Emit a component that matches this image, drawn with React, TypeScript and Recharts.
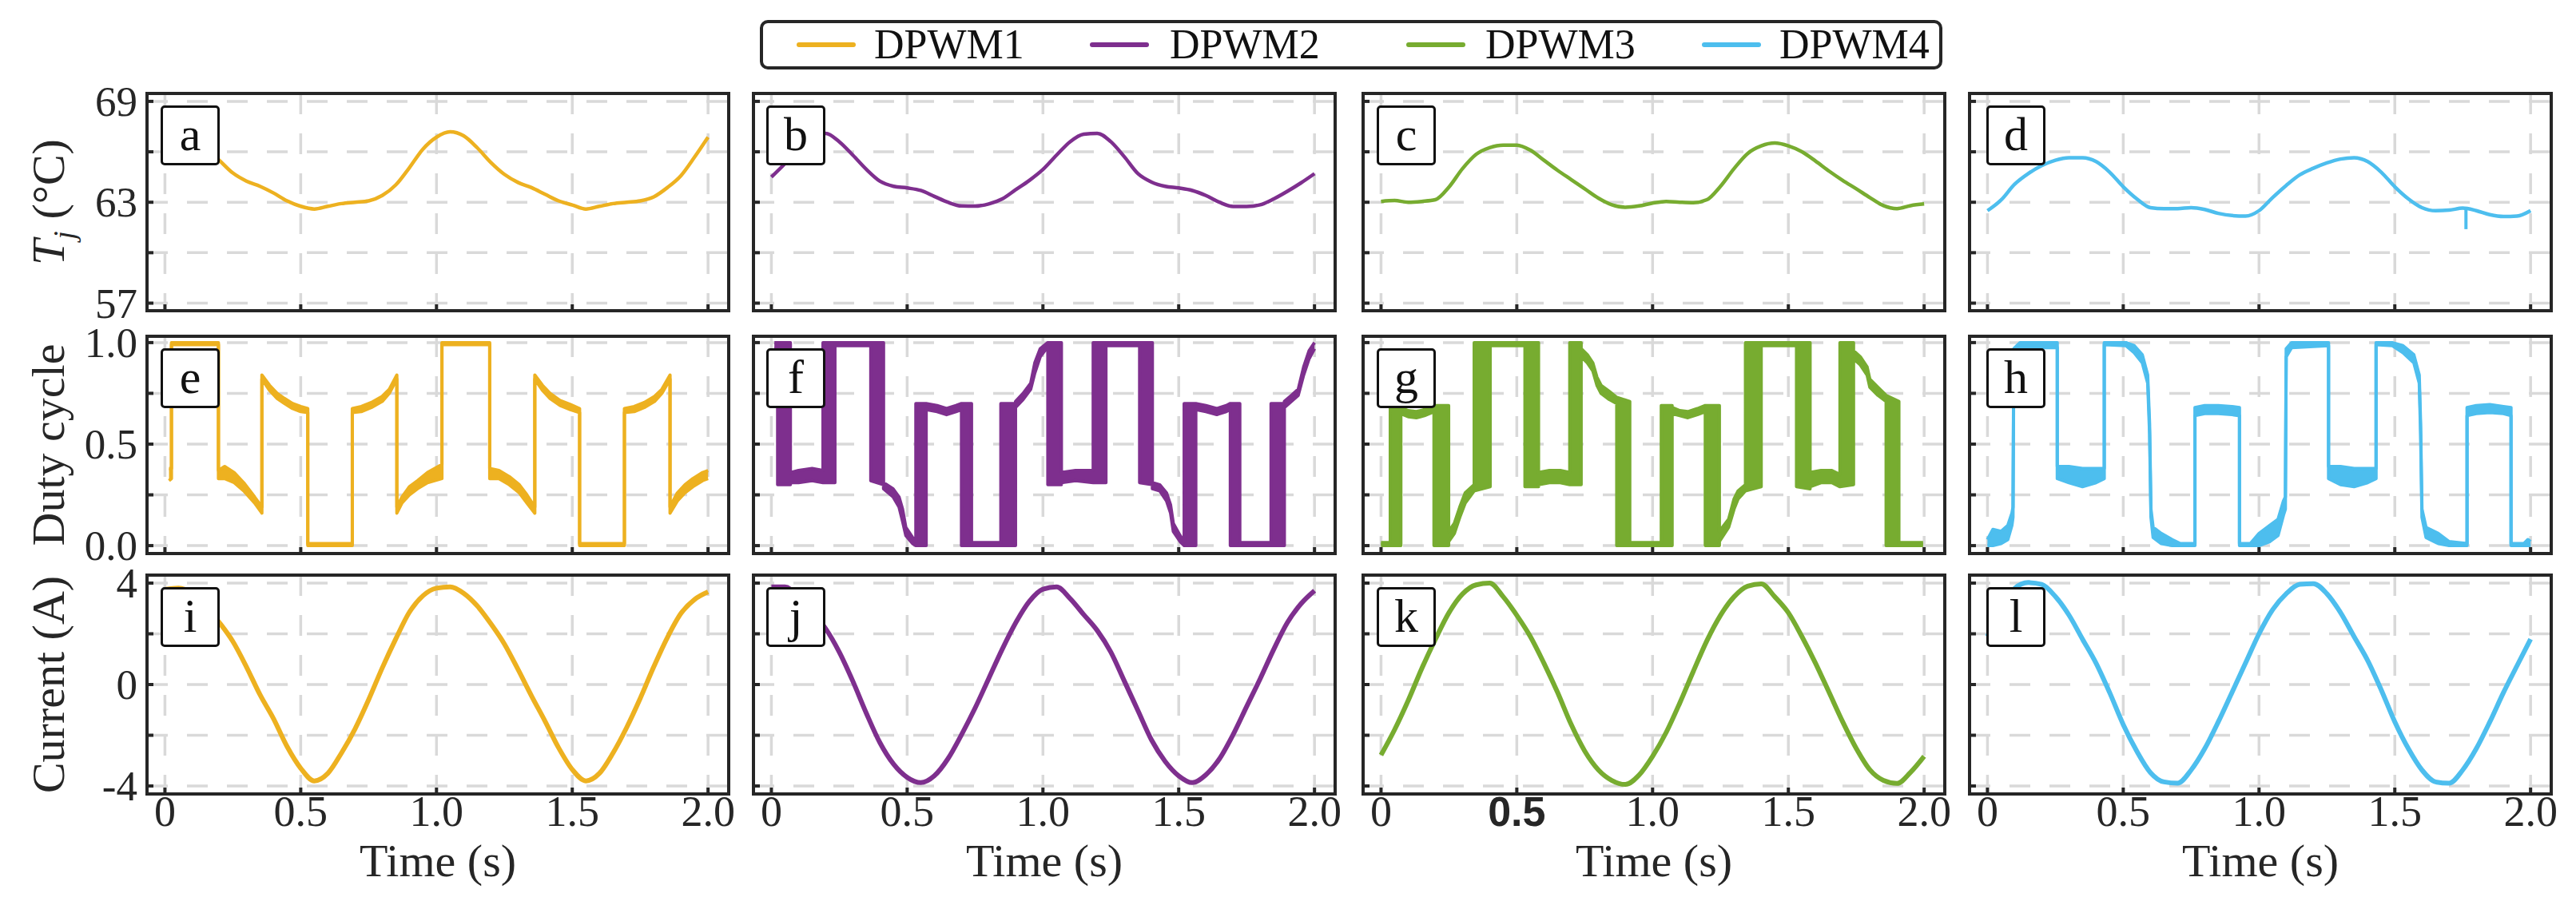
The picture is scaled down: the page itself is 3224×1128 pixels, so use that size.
import React from "react";
import { ComposedChart, Line, Area, XAxis, YAxis, CartesianGrid } from "recharts";

const SERIF = '"Liberation Serif", "Times New Roman", Times, serif';
const INK = "#262626";
const GRID = "#d9d9d9";

const seriesNames = ["DPWM1", "DPWM2", "DPWM3", "DPWM4"];
const seriesColors = ["#EDB120", "#7E2F8E", "#77AC30", "#4DBEEE"];
const panelLetters = [
  ["a", "b", "c", "d"],
  ["e", "f", "g", "h"],
  ["i", "j", "k", "l"],
];

// axes
const timeTicks = [0, 0.5, 1, 1.5, 2];
const timeTickLabels = ["0", "0.5", "1.0", "1.5", "2.0"];
const tjGrid = [57, 60, 63, 66, 69];
const tjTickLabels = ["57", "", "63", "", "69"];
const dutyGrid = [0, 0.25, 0.5, 0.75, 1];
const dutyTickLabels = ["0.0", "", "0.5", "", "1.0"];
const curGrid = [-4, -2, 0, 2, 4];
const curTickLabels = ["-4", "", "0", "", "4"];
const rowTitles = ["Tj", "Duty cycle", "Current (A)"];

// sampled time base (s) for junction temperature and current
const timeGrid = [
  0, 0.05, 0.1, 0.15, 0.2, 0.25, 0.3, 0.35, 0.4, 0.45, 0.5, 0.55, 0.6, 0.65, 0.7, 0.75, 0.8, 0.85, 0.9, 0.95,
  1.0, 1.05, 1.1, 1.15, 1.2, 1.25, 1.3, 1.35, 1.4, 1.45, 1.5, 1.55, 1.6, 1.65, 1.7, 1.75, 1.8, 1.85, 1.9, 1.95, 2.0,
];

// junction temperature (°C)
const tjDpwm1 = [
  66.9, 67.2, 66.95, 66.25, 65.5, 64.74, 64.26, 63.95, 63.55, 63.08, 62.76, 62.6, 62.76, 62.92, 63.0, 63.08, 63.4, 64.03, 65.05, 66.16,
  66.87, 67.19, 66.95, 66.24, 65.37, 64.66, 64.18, 63.87, 63.47, 63.08, 62.84, 62.6, 62.76, 62.92, 63.0, 63.08, 63.32, 63.87, 64.58, 65.68, 66.87,
];
const tjDpwm2 = [
  64.5, 65.3, 66.2, 66.9, 67.1, 66.6, 65.8, 64.95, 64.25, 63.95, 63.85, 63.7, 63.35, 63.0, 62.78, 62.77, 62.9, 63.2, 63.75, 64.3,
  64.95, 65.8, 66.6, 67.05, 67.1, 66.6, 65.7, 64.7, 64.2, 63.95, 63.85, 63.7, 63.4, 63.0, 62.75, 62.75, 62.85, 63.2, 63.65, 64.15, 64.7,
];
const tjDpwm3 = [
  63.05, 63.1, 63.0, 63.05, 63.15, 63.9, 65.0, 65.85, 66.25, 66.4, 66.4, 66.1, 65.5, 64.9, 64.35, 63.8, 63.25, 62.85, 62.7, 62.78,
  62.95, 63.05, 63.0, 62.97, 63.15, 63.95, 65.0, 65.9, 66.35, 66.52, 66.35, 66.0, 65.45, 64.85, 64.3, 63.8, 63.28, 62.8, 62.62, 62.8, 62.9,
];
const tjDpwm4 = [
  62.5, 63.13, 64.07, 64.7, 65.18, 65.5, 65.65, 65.65, 65.42, 64.79, 63.92, 63.2, 62.68, 62.62, 62.62, 62.68, 62.57, 62.34, 62.21, 62.18,
  62.5, 63.28, 64.0, 64.63, 65.02, 65.34, 65.57, 65.65, 65.42, 64.79, 63.92, 63.2, 62.68, 62.5, 62.53, 62.65, 62.5, 62.26, 62.15, 62.18, 62.5,
];
// short sensor glitch in the DPWM4 temperature trace
const tjDpwm4Glitch = [
  [1.762, 62.6],
  [1.762, 61.4],
];

// phase current (A)
const curDpwm1 = [
  3.75, 3.8, 3.6, 3.1, 2.45, 1.7, 0.7, -0.4, -1.35, -2.45, -3.3, -3.8, -3.5, -2.7, -1.75, -0.6, 0.65, 1.8, 2.85, 3.5,
  3.8, 3.85, 3.6, 3.1, 2.4, 1.6, 0.6, -0.45, -1.45, -2.5, -3.35, -3.8, -3.5, -2.7, -1.7, -0.55, 0.7, 1.85, 2.8, 3.35, 3.65,
];
const curDpwm2 = [
  3.85, 3.85, 3.45, 2.85, 2.2, 1.28, 0.13, -1.14, -2.3, -3.14, -3.66, -3.87, -3.6, -2.93, -1.98, -0.93, 0.23, 1.39, 2.44, 3.28,
  3.76, 3.85, 3.39, 2.76, 2.13, 1.28, 0.13, -1.03, -2.19, -3.03, -3.6, -3.87, -3.56, -2.93, -1.98, -0.87, 0.23, 1.39, 2.44, 3.18, 3.7,
];
const curDpwm3 = [
  -2.78, -1.78, -0.63, 0.63, 1.78, 2.83, 3.57, 3.93, 4.0, 3.46, 2.73, 1.89, 0.84, -0.31, -1.57, -2.62, -3.36, -3.78, -3.94, -3.57,
  -2.83, -1.89, -0.73, 0.52, 1.73, 2.73, 3.46, 3.88, 3.97, 3.46, 2.83, 1.89, 0.84, -0.31, -1.47, -2.52, -3.36, -3.78, -3.9, -3.46, -2.83,
];
const curDpwm4 = [
  1.9, 3.05, 3.79, 4.02, 3.95, 3.47, 2.74, 1.79, 0.84, -0.32, -1.58, -2.63, -3.47, -3.84, -3.89, -3.37, -2.53, -1.47, -0.32, 0.84,
  2.0, 2.95, 3.58, 3.95, 3.98, 3.58, 2.84, 1.89, 0.95, -0.21, -1.47, -2.53, -3.37, -3.84, -3.89, -3.37, -2.53, -1.47, -0.32, 0.74, 1.79,
];

// duty cycle traces: [time, lower envelope, upper envelope]
const dutyDpwm1 = [
  [0.015, 0.32, 0.38], [0.024, 0.33, 0.38], [0.024, 0.99, 1.0], [0.197, 0.99, 1.0], [0.197, 0.33, 0.37],
  [0.22, 0.33, 0.39], [0.255, 0.31, 0.36], [0.29, 0.27, 0.31], [0.33, 0.21, 0.24], [0.357, 0.16, 0.19],
  [0.357, 0.82, 0.84], [0.385, 0.765, 0.79], [0.413, 0.725, 0.75], [0.44, 0.7, 0.725], [0.47, 0.675, 0.7],
  [0.5, 0.66, 0.685], [0.526, 0.655, 0.675], [0.526, 0.0, 0.01], [0.69, 0.0, 0.01], [0.69, 0.655, 0.675],
  [0.723, 0.66, 0.685], [0.76, 0.68, 0.705], [0.8, 0.71, 0.735], [0.826, 0.75, 0.77], [0.854, 0.82, 0.84],
  [0.854, 0.16, 0.19], [0.873, 0.21, 0.24], [0.9, 0.25, 0.29], [0.93, 0.28, 0.32], [0.967, 0.31, 0.36],
  [1.02, 0.33, 0.4], [1.02, 0.99, 1.0], [1.196, 0.99, 1.0], [1.196, 0.33, 0.38], [1.23, 0.33, 0.37],
  [1.268, 0.3, 0.34], [1.305, 0.26, 0.3], [1.333, 0.21, 0.25], [1.362, 0.16, 0.19], [1.362, 0.82, 0.84],
  [1.39, 0.765, 0.79], [1.418, 0.725, 0.75], [1.455, 0.69, 0.715], [1.493, 0.67, 0.695], [1.527, 0.655, 0.675],
  [1.527, 0.0, 0.01], [1.692, 0.0, 0.01], [1.692, 0.655, 0.675], [1.728, 0.66, 0.685], [1.765, 0.68, 0.705],
  [1.803, 0.71, 0.735], [1.83, 0.75, 0.77], [1.86, 0.82, 0.84], [1.86, 0.16, 0.19], [1.887, 0.22, 0.26],
  [1.915, 0.26, 0.3], [1.944, 0.29, 0.33], [1.98, 0.32, 0.36], [2.0, 0.33, 0.37],
];
const dutyDpwm2 = [
  [0.011, 0.97, 1.0], [0.023, 0.97, 1.0], [0.023, 0.3, 1.0], [0.07, 0.3, 1.0], [0.07, 0.31, 0.36],
  [0.1, 0.31, 0.37], [0.15, 0.32, 0.38], [0.19, 0.31, 0.37], [0.19, 0.31, 1.0], [0.234, 0.31, 1.0],
  [0.234, 0.985, 1.0], [0.366, 0.985, 1.0], [0.366, 0.32, 1.0], [0.413, 0.3, 1.0], [0.413, 0.28, 0.31],
  [0.448, 0.24, 0.28], [0.47, 0.19, 0.24], [0.483, 0.12, 0.18], [0.495, 0.05, 0.09], [0.52, 0.01, 0.04],
  [0.532, 0.0, 0.02], [0.532, 0.0, 0.7], [0.57, 0.0, 0.7], [0.57, 0.67, 0.7], [0.61, 0.66, 0.69],
  [0.645, 0.645, 0.675], [0.68, 0.66, 0.69], [0.7, 0.67, 0.7], [0.7, 0.0, 0.7], [0.737, 0.0, 0.7],
  [0.737, 0.0, 0.015], [0.845, 0.0, 0.015], [0.845, 0.0, 0.7], [0.899, 0.0, 0.7], [0.899, 0.68, 0.71],
  [0.927, 0.72, 0.75], [0.955, 0.77, 0.8], [0.97, 0.85, 0.9], [0.99, 0.93, 0.97], [1.018, 0.98, 1.0],
  [1.018, 0.3, 1.0], [1.068, 0.3, 1.0], [1.068, 0.31, 0.36], [1.12, 0.32, 0.37], [1.185, 0.31, 0.37],
  [1.185, 0.31, 1.0], [1.232, 0.31, 1.0], [1.232, 0.985, 1.0], [1.356, 0.985, 1.0], [1.356, 0.31, 1.0],
  [1.403, 0.3, 1.0], [1.403, 0.28, 0.31], [1.43, 0.27, 0.3], [1.455, 0.22, 0.26], [1.47, 0.16, 0.2],
  [1.48, 0.07, 0.11], [1.505, 0.02, 0.05], [1.52, 0.0, 0.02], [1.52, 0.0, 0.7], [1.563, 0.0, 0.7],
  [1.563, 0.67, 0.7], [1.6, 0.66, 0.69], [1.64, 0.645, 0.675], [1.675, 0.66, 0.69], [1.69, 0.67, 0.7],
  [1.69, 0.0, 0.7], [1.725, 0.0, 0.7], [1.725, 0.0, 0.015], [1.84, 0.0, 0.015], [1.84, 0.0, 0.7],
  [1.889, 0.0, 0.7], [1.889, 0.68, 0.71], [1.915, 0.71, 0.74], [1.94, 0.74, 0.77], [1.96, 0.84, 0.88],
  [1.98, 0.92, 0.96], [2.0, 0.97, 1.0],
];
const dutyDpwm3 = [
  [0.0, 0.0, 0.015], [0.034, 0.0, 0.015], [0.034, 0.0, 0.68], [0.073, 0.0, 0.68], [0.073, 0.65, 0.68],
  [0.1, 0.635, 0.665], [0.13, 0.63, 0.66], [0.16, 0.64, 0.67], [0.195, 0.66, 0.69], [0.195, 0.0, 0.69],
  [0.249, 0.0, 0.69], [0.249, 0.02, 0.07], [0.27, 0.06, 0.11], [0.29, 0.14, 0.19], [0.31, 0.21, 0.26],
  [0.343, 0.27, 0.3], [0.343, 0.27, 1.0], [0.402, 0.29, 1.0], [0.402, 0.985, 1.0], [0.53, 0.985, 1.0],
  [0.53, 0.29, 1.0], [0.58, 0.29, 1.0], [0.58, 0.3, 0.36], [0.62, 0.31, 0.37], [0.66, 0.31, 0.37],
  [0.695, 0.3, 0.36], [0.695, 0.3, 1.0], [0.737, 0.3, 1.0], [0.737, 0.93, 0.97], [0.76, 0.9, 0.94],
  [0.78, 0.86, 0.9], [0.795, 0.79, 0.83], [0.81, 0.75, 0.79], [0.84, 0.72, 0.76], [0.868, 0.7, 0.73],
  [0.868, 0.0, 0.73], [0.916, 0.0, 0.71], [0.916, 0.0, 0.015], [1.032, 0.0, 0.015], [1.032, 0.0, 0.69],
  [1.072, 0.0, 0.69], [1.072, 0.65, 0.68], [1.1, 0.64, 0.665], [1.13, 0.63, 0.66], [1.165, 0.645, 0.675],
  [1.194, 0.66, 0.69], [1.194, 0.0, 0.69], [1.246, 0.0, 0.69], [1.246, 0.02, 0.07], [1.28, 0.09, 0.13],
  [1.3, 0.18, 0.23], [1.315, 0.23, 0.27], [1.342, 0.27, 0.3], [1.342, 0.27, 1.0], [1.4, 0.29, 1.0],
  [1.4, 0.985, 1.0], [1.53, 0.985, 1.0], [1.53, 0.29, 1.0], [1.58, 0.28, 1.0], [1.58, 0.29, 0.36],
  [1.62, 0.31, 0.37], [1.66, 0.31, 0.37], [1.69, 0.29, 0.35], [1.69, 0.29, 1.0], [1.74, 0.3, 1.0],
  [1.74, 0.92, 0.96], [1.765, 0.89, 0.93], [1.79, 0.84, 0.88], [1.8, 0.78, 0.82], [1.83, 0.74, 0.78],
  [1.86, 0.71, 0.74], [1.86, 0.0, 0.74], [1.907, 0.0, 0.71], [1.907, 0.0, 0.015], [1.996, 0.0, 0.015],
];
const dutyDpwm4 = [
  [0.0, 0.0, 0.03], [0.02, 0.0, 0.08], [0.05, 0.01, 0.07], [0.075, 0.03, 0.1], [0.09, 0.1, 0.16],
  [0.094, 0.14, 0.19], [0.097, 0.93, 0.97], [0.12, 0.975, 1.0], [0.257, 0.975, 1.0], [0.257, 0.33, 0.39],
  [0.3, 0.31, 0.39], [0.35, 0.29, 0.38], [0.4, 0.31, 0.38], [0.43, 0.33, 0.38], [0.43, 0.99, 1.0],
  [0.51, 0.985, 1.0], [0.54, 0.95, 0.985], [0.57, 0.9, 0.94], [0.59, 0.8, 0.84], [0.597, 0.55, 0.6],
  [0.602, 0.14, 0.18], [0.61, 0.04, 0.09], [0.64, 0.01, 0.06], [0.68, 0.0, 0.03], [0.71, 0.0, 0.01],
  [0.764, 0.0, 0.01], [0.764, 0.64, 0.68], [0.8, 0.65, 0.69], [0.85, 0.65, 0.69], [0.9, 0.645, 0.685],
  [0.928, 0.64, 0.68], [0.928, 0.0, 0.01], [0.968, 0.0, 0.01], [1.0, 0.0, 0.06], [1.04, 0.02, 0.1],
  [1.07, 0.05, 0.13], [1.09, 0.15, 0.22], [1.097, 0.18, 0.24], [1.1, 0.93, 0.97], [1.12, 0.975, 1.0],
  [1.256, 0.985, 1.0], [1.256, 0.33, 0.39], [1.3, 0.3, 0.39], [1.35, 0.29, 0.38], [1.4, 0.31, 0.38],
  [1.431, 0.33, 0.38], [1.431, 0.99, 1.0], [1.49, 0.985, 1.0], [1.53, 0.95, 0.985], [1.57, 0.9, 0.94],
  [1.59, 0.8, 0.84], [1.595, 0.55, 0.6], [1.6, 0.14, 0.18], [1.615, 0.04, 0.09], [1.66, 0.01, 0.06],
  [1.7, 0.0, 0.02], [1.766, 0.0, 0.01], [1.766, 0.64, 0.68], [1.8, 0.65, 0.69], [1.85, 0.655, 0.695],
  [1.9, 0.65, 0.685], [1.928, 0.64, 0.68], [1.928, 0.0, 0.01], [1.975, 0.0, 0.01], [1.99, 0.0, 0.03],
  [2.0, 0.0, 0.02],
];

const tjSeries = [tjDpwm1, tjDpwm2, tjDpwm3, tjDpwm4];
const dutySeries = [dutyDpwm1, dutyDpwm2, dutyDpwm3, dutyDpwm4];
const curSeries = [curDpwm1, curDpwm2, curDpwm3, curDpwm4];

// layout (page pixels)
const COL_X = [184, 943, 1706, 2465];
const PANEL_W = 728;
const ROW_Y = [117, 421, 720];
const ROW_H = [272, 272, 274];
const LETTER_DX = [17, 16, 17, 21];
const X_DOMAIN = [-0.066, 2.076];
const Y_DOMAINS = [
  [56.55, 69.47],
  [-0.039, 1.031],
  [-4.315, 4.315],
];
const Y_AXIS_W = 90;
const X_AXIS_H = 60;
const M = { top: 32, right: 12, bottom: 0, left: 0 };
const TICK_STYLE = { stroke: INK, strokeWidth: 4 };

const rowGrid = [tjGrid, dutyGrid, curGrid];
const rowTickLabels = [tjTickLabels, dutyTickLabels, curTickLabels];

function Panel({ row, col }: { row: number; col: number }) {
  const w = PANEL_W;
  const h = ROW_H[row];
  const color = seriesColors[col];
  const grid = rowGrid[row];
  const labels = rowTickLabels[row];

  let data: any[];
  if (row === 0) data = timeGrid.map((t, i) => ({ t, v: tjSeries[col][i] }));
  else if (row === 1) data = dutySeries[col].map(([t, lo, hi]) => ({ t, r: [lo, hi] }));
  else data = timeGrid.map((t, i) => ({ t, v: curSeries[col][i] }));

  const plotTop = M.top;
  const plotBottom = M.top + h;

  const xTick = (p: any) => {
    if (row !== 2) return <g />;
    const idx = timeTicks.indexOf(p.payload.value);
    const odd = col === 2 && idx === 1;
    return (
      <text
        x={p.x}
        y={plotBottom + 40}
        textAnchor="middle"
        fill={INK}
        fontFamily={odd ? '"Liberation Sans", Arial, sans-serif' : SERIF}
        fontWeight={odd ? 700 : 400}
        fontSize={odd ? 52 : 54}
      >
        {timeTickLabels[idx]}
      </text>
    );
  };
  const yTick = (p: any) => {
    if (col !== 0) return <g />;
    const idx = grid.indexOf(p.payload.value);
    return (
      <text x={Y_AXIS_W - 12} y={p.y + 18} textAnchor="end" fill={INK} fontFamily={SERIF} fontSize={53}>
        {labels[idx]}
      </text>
    );
  };

  return (
    <>
      <div style={{ position: "absolute", left: COL_X[col] - Y_AXIS_W, top: ROW_Y[row] - plotTop }}>
        <ComposedChart
          width={w + Y_AXIS_W + M.right}
          height={h + M.top + X_AXIS_H}
          data={data}
          margin={M}
        >
          <CartesianGrid stroke={GRID} strokeWidth={3.5} strokeDasharray="26 24" />
          <XAxis
            type="number"
            dataKey="t"
            domain={X_DOMAIN}
            ticks={timeTicks}
            allowDataOverflow
            height={X_AXIS_H}
            axisLine={false}
            tickLine={TICK_STYLE}
            tickSize={-8}
            interval={0}
            tick={xTick}
          />
          <YAxis
            type="number"
            domain={Y_DOMAINS[row]}
            ticks={grid}
            allowDataOverflow
            width={Y_AXIS_W}
            axisLine={false}
            tickLine={TICK_STYLE}
            tickSize={-8}
            interval={0}
            tick={yTick}
          />
          {row === 1 ? (
            <Area
              type="linear"
              dataKey="r"
              stroke={color}
              strokeWidth={4}
              strokeLinejoin="round"
              fill={color}
              fillOpacity={1}
              dot={false}
              activeDot={false}
              isAnimationActive={false}
            />
          ) : (
            <Line
              type="monotone"
              dataKey="v"
              stroke={color}
              strokeWidth={row === 0 ? 4.5 : 6}
              dot={false}
              activeDot={false}
              isAnimationActive={false}
            />
          )}
          {row === 0 && col === 3 && (
            <Line
              data={tjDpwm4Glitch.map(([t, v]) => ({ t, v }))}
              type="linear"
              dataKey="v"
              stroke={color}
              strokeWidth={4}
              dot={false}
              activeDot={false}
              isAnimationActive={false}
            />
          )}
        </ComposedChart>
      </div>
      <div
        style={{
          position: "absolute",
          left: COL_X[col] - 2.25,
          top: ROW_Y[row] - 2.25,
          width: w + 4.5,
          height: h + 4.5,
          border: `4.5px solid ${INK}`,
          boxSizing: "border-box",
          pointerEvents: "none",
        }}
      />
      <div
        style={{
          position: "absolute",
          left: COL_X[col] + LETTER_DX[col],
          top: ROW_Y[row] + 15,
          width: 74,
          height: 75,
          boxSizing: "border-box",
          border: "3.5px solid #111",
          borderRadius: 5,
          background: "#fff",
          fontFamily: SERIF,
          fontSize: 60,
          lineHeight: "66px",
          textAlign: "center",
          color: "#111",
        }}
      >
        {panelLetters[row][col]}
      </div>
    </>
  );
}

function RowTitle({ row }: { row: number }) {
  const cy = ROW_Y[row] + ROW_H[row] / 2;
  return (
    <div
      style={{
        position: "absolute",
        left: 61,
        top: cy,
        transform: "translate(-50%, -50%) rotate(-90deg)",
        whiteSpace: "nowrap",
        fontFamily: SERIF,
        fontSize: 58,
        lineHeight: "58px",
        color: INK,
      }}
    >
      {row === 0 ? (
        <span>
          <i>T</i>
          <sub style={{ fontSize: 38, fontStyle: "italic", lineHeight: 0 }}>j</sub> (°C)
        </span>
      ) : (
        rowTitles[row]
      )}
    </div>
  );
}

const LEGEND_LINE_X = [997, 1364, 1760, 2130];
const LEGEND_TEXT_X = [1094, 1464, 1859, 2227];

function LegendBox() {
  return (
    <>
      <div
        style={{
          position: "absolute",
          left: 951,
          top: 25,
          width: 1480,
          height: 62,
          boxSizing: "border-box",
          border: `4px solid ${INK}`,
          borderRadius: 10,
          background: "#fff",
        }}
      />
      {seriesNames.map((name, i) => (
        <React.Fragment key={name}>
          <div
            style={{
              position: "absolute",
              left: LEGEND_LINE_X[i],
              top: 53,
              width: 74,
              height: 6,
              borderRadius: 3,
              background: seriesColors[i],
            }}
          />
          <div
            style={{
              position: "absolute",
              left: LEGEND_TEXT_X[i],
              top: 29.5,
              fontFamily: SERIF,
              fontSize: 52,
              lineHeight: "52px",
              color: "#111",
              whiteSpace: "nowrap",
            }}
          >
            {name}
          </div>
        </React.Fragment>
      ))}
    </>
  );
}

export default function App() {
  return (
    <div
      style={{
        position: "absolute",
        left: 0,
        top: 0,
        width: 3224,
        height: 1128,
        background: "#fff",
        overflow: "hidden",
      }}
    >
      <LegendBox />
      {[0, 1, 2].map((row) => (
        <React.Fragment key={row}>
          <RowTitle row={row} />
          {[0, 1, 2, 3].map((col) => (
            <Panel key={col} row={row} col={col} />
          ))}
        </React.Fragment>
      ))}
      {COL_X.map((x, col) => (
        <div
          key={col}
          style={{
            position: "absolute",
            left: x + PANEL_W / 2,
            top: 1059,
            transform: "translateX(-50%)",
            fontFamily: SERIF,
            fontSize: 58,
            lineHeight: "38px",
            color: INK,
            whiteSpace: "nowrap",
          }}
        >
          Time (s)
        </div>
      ))}
    </div>
  );
}
